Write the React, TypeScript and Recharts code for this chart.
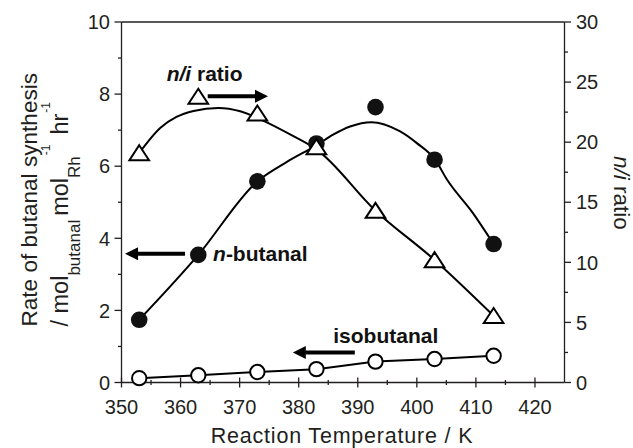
import React from 'react';
import {
  ComposedChart,
  Line,
  Scatter,
  XAxis,
  YAxis,
  ReferenceLine,
  ReferenceDot,
  Label,
} from 'recharts';

// ---------- data ----------
const temps = [353, 363, 373, 383, 393, 403, 413];
const nButanal = [1.74, 3.54, 5.58, 6.63, 7.64, 6.18, 3.84];
const isoButanal = [0.12, 0.2, 0.29, 0.37, 0.58, 0.65, 0.74];
const niRatio = [19.1, 23.8, 22.4, 19.6, 14.3, 10.2, 5.55];

// fitted guide curves
const nButanalCurveX = [353, 363, 373, 378, 383, 385.9, 388.7, 392.3, 397.1, 400, 403.1, 405.1, 409.5, 413];
const nButanalCurveY = [1.74, 3.54, 5.58, 6.12, 6.58, 6.88, 7.1, 7.22, 6.97, 6.64, 6.18, 5.63, 4.7, 3.84];
const niCurveX = [353, 356.6, 359.3, 362.2, 366.4, 370.1, 373.5, 379.1, 383, 393, 403, 413];
const niCurveY = [19.1, 21.2, 22.1, 22.6, 22.85, 22.57, 21.9, 20.5, 19.4, 14.3, 10.2, 5.55];

// ticks
const xMajorTicks = [350, 360, 370, 380, 390, 400, 410, 420];
const xMinorTicks = [355, 365, 375, 385, 395, 405, 415];
const leftMajorTicks = [0, 2, 4, 6, 8, 10];
const leftMinorTicks = [1, 3, 5, 7, 9];
const rightMajorTicks = [0, 5, 10, 15, 20, 25, 30];
const rightMinorTicks = [2.5, 7.5, 12.5, 17.5, 22.5, 27.5];

// annotations (data coordinates)
const niLabelPos = { x: 357.65, y: 8.35 };
const niArrow = { x1: 364.6, x2: 374.8, y: 7.94 };
const nbLabelPos = { x: 365.5, y: 3.375 };
const nbArrow = { x1: 360.75, x2: 350.6, y: 3.57 };
const isoLabelPos = { x: 385.85, y: 1.09 };
const isoArrow = { x1: 389.5, x2: 379.0, y: 0.83 };

// ---------- build ----------
const nButanalPts = temps.map((t, i) => ({ x: t, y: nButanal[i] }));
const isoPts = temps.map((t, i) => ({ x: t, y: isoButanal[i] }));
const niPts = temps.map((t, i) => ({ x: t, y: niRatio[i] }));
const nButanalCurve = nButanalCurveX.map((t, i) => ({ x: t, y: nButanalCurveY[i] }));
const niCurve = niCurveX.map((t, i) => ({ x: t, y: niCurveY[i] }));

const xTicks = [...xMajorTicks, ...xMinorTicks].sort((a, b) => a - b);
const leftTicks = [...leftMajorTicks, ...leftMinorTicks].sort((a, b) => a - b);
const rightTicks = [...rightMajorTicks, ...rightMinorTicks].sort((a, b) => a - b);

const FONT = '"Liberation Sans", Arial, Helvetica, sans-serif';
const INK = '#231f20';
const AX_W = 1.3;

function BottomTick(props: any) {
  const { x, y, payload } = props;
  const v = payload.value;
  const major = xMajorTicks.includes(v);
  return (
    <g>
      <line x1={x} x2={x} y1={major ? y - 5 : y - 2.5} y2={major ? y + 5 : y + 2.5} stroke={INK} strokeWidth={AX_W} />
      {major && (
        <text x={x} y={y + 31} textAnchor="middle" fontSize={20} fill={INK} fontFamily={FONT}>
          {v}
        </text>
      )}
    </g>
  );
}

function TopTick(props: any) {
  const { x, y } = props;
  return <line x1={x} x2={x} y1={y} y2={y + 3.5} stroke={INK} strokeWidth={AX_W} />;
}

function LeftTick(props: any) {
  const { x, y, payload } = props;
  const v = payload.value;
  const major = leftMajorTicks.includes(v);
  return (
    <g>
      <line x1={major ? x - 7 : x - 3.5} x2={x} y1={y} y2={y} stroke={INK} strokeWidth={AX_W} />
      {major && (
        <text x={x - 11.5} y={y + 7.2} textAnchor="end" fontSize={20} fill={INK} fontFamily={FONT}>
          {v}
        </text>
      )}
    </g>
  );
}

function RightTick(props: any) {
  const { x, y, payload } = props;
  const v = payload.value;
  const major = rightMajorTicks.includes(v);
  return (
    <g>
      <line x1={x} x2={major ? x + 6.5 : x + 3.5} y1={y} y2={y} stroke={INK} strokeWidth={AX_W} />
      {major && (
        <text x={x + 11.5} y={y + 7.2} textAnchor="start" fontSize={20} fill={INK} fontFamily={FONT}>
          {v}
        </text>
      )}
    </g>
  );
}

function Arrow(props: any) {
  const { x1, y1, x2 } = props;
  const dir = x2 > x1 ? 1 : -1;
  const headLen = 13;
  const headHalf = 6.5;
  const baseX = x2 - dir * headLen;
  return (
    <g>
      <line x1={x1} y1={y1} x2={baseX + dir * 1} y2={y1} stroke="#000" strokeWidth={4} />
      <polygon points={`${x2},${y1} ${baseX},${y1 - headHalf} ${baseX},${y1 + headHalf}`} fill="#000" />
    </g>
  );
}

const FilledCircle = (p: any) => <circle cx={p.cx} cy={p.cy} r={8.3} fill="#111" />;
const OpenCircle = (p: any) => (
  <circle key={`oc-${p.index}`} cx={p.cx} cy={p.cy} r={7.2} fill="#fff" stroke="#000" strokeWidth={2} />
);
const Triangle = (p: any) => {
  const { cx, cy } = p;
  return (
    <polygon
      points={`${cx},${cy - 7.8} ${cx + 9.8},${cy + 7.2} ${cx - 9.8},${cy + 7.2}`}
      fill="#fff"
      stroke="#000"
      strokeWidth={2}
      strokeLinejoin="miter"
    />
  );
};

const LeftTitle = (props: any) => {
  const vb = props.viewBox || { x: 0, y: 22, width: 121.5, height: 360 };
  const cy = vb.y + vb.height / 2;
  const x1 = vb.x + 37;
  const y1 = cy - 2.5;
  const x2 = vb.x + 68;
  const y2 = cy + 12;
  return (
    <g fill={INK} fontFamily={FONT}>
      <text x={x1} y={y1} transform={`rotate(-90 ${x1} ${y1})`} textAnchor="middle" fontSize={22.6}>
        Rate of butanal synthesis
      </text>
      <text x={x2} y={y2} transform={`rotate(-90 ${x2} ${y2})`} textAnchor="middle" fontSize={23.5}>
        <tspan>/ mol</tspan>
        <tspan fontSize={17} dy={11.5}>butanal</tspan>
        <tspan dx={4} dy={-11.5}>mol</tspan>
        <tspan fontSize={17} dy={11.5}>Rh</tspan>
        <tspan fontSize={12} dx={1} dy={-30}>-1</tspan>
        <tspan dx={10} dy={18.5}>hr</tspan>
        <tspan fontSize={12} dx={1} dy={-18.5}>-1</tspan>
      </text>
    </g>
  );
};

const RightTitle = (props: any) => {
  const vb = props.viewBox || { x: 564.5, y: 22, width: 68.5, height: 360 };
  const x = vb.x + 49.5;
  const y = 193;
  return (
    <text x={x} y={y} transform={`rotate(90 ${x} ${y})`} textAnchor="middle" fontSize={22.5} fill={INK} fontFamily={FONT}>
      <tspan fontStyle="italic">n/i</tspan> ratio
    </text>
  );
};

const BottomTitle = (props: any) => {
  const vb = props.viewBox || { x: 121.5, y: 382.5, width: 443, height: 65.5 };
  const x = vb.x + vb.width / 2 - 1;
  return (
    <text x={x} y={vb.y + 60} textAnchor="middle" fontSize={21.5} letterSpacing={0.8} fill={INK} fontFamily={FONT}>
      Reaction Temperature / K
    </text>
  );
};

const textAt = (content: React.ReactNode) => (p: any) => (
  <text x={p.cx} y={p.cy} fontSize={21} fontWeight="bold" fill="#111" fontFamily={FONT}>
    {content}
  </text>
);

export default function App() {
  return (
    <div style={{ position: 'absolute', left: 0, top: 0, width: 633, height: 448, background: '#fff' }}>
      <ComposedChart width={633} height={448} margin={{ top: 0, right: 0, bottom: 0, left: 0 }}>
        <XAxis
          xAxisId="top"
          orientation="top"
          type="number"
          dataKey="x"
          domain={[350, 425]}
          ticks={xTicks}
          interval={0}
          height={22}
          tickSize={0}
          tickMargin={0}
          tick={<TopTick />}
          tickLine={false}
          axisLine={{ stroke: INK, strokeWidth: AX_W }}
        />
        <XAxis
          type="number"
          dataKey="x"
          domain={[350, 425]}
          ticks={xTicks}
          interval={0}
          height={65.5}
          tickSize={0}
          tickMargin={0}
          tick={<BottomTick />}
          tickLine={false}
          axisLine={{ stroke: INK, strokeWidth: AX_W }}
        >
          <Label content={<BottomTitle />} />
        </XAxis>
        <YAxis
          yAxisId="left"
          type="number"
          domain={[0, 10]}
          ticks={leftTicks}
          interval={0}
          width={121.5}
          tickSize={0}
          tickMargin={0}
          tick={<LeftTick />}
          tickLine={false}
          axisLine={{ stroke: INK, strokeWidth: AX_W }}
        >
          <Label content={<LeftTitle />} />
        </YAxis>
        <YAxis
          yAxisId="right"
          orientation="right"
          type="number"
          domain={[0, 30]}
          ticks={rightTicks}
          interval={0}
          width={68.5}
          tickSize={0}
          tickMargin={0}
          tick={<RightTick />}
          tickLine={false}
          axisLine={{ stroke: INK, strokeWidth: AX_W }}
        >
          <Label content={<RightTitle />} />
        </YAxis>

        <Line
          yAxisId="left"
          data={nButanalCurve}
          dataKey="y"
          type="monotone"
          stroke="#000"
          strokeWidth={2}
          dot={false}
          activeDot={false}
          isAnimationActive={false}
        />
        <Line
          yAxisId="right"
          data={niCurve}
          dataKey="y"
          type="monotone"
          stroke="#000"
          strokeWidth={2}
          dot={false}
          activeDot={false}
          isAnimationActive={false}
        />
        <Scatter yAxisId="left" data={nButanalPts} dataKey="y" shape={FilledCircle} isAnimationActive={false} />
        <Line
          yAxisId="left"
          data={isoPts}
          dataKey="y"
          type="linear"
          stroke="#000"
          strokeWidth={2}
          dot={OpenCircle}
          activeDot={false}
          isAnimationActive={false}
        />
        <Scatter yAxisId="right" data={niPts} dataKey="y" shape={Triangle} isAnimationActive={false} />

        <ReferenceLine
          yAxisId="left"
          segment={[{ x: niArrow.x1, y: niArrow.y }, { x: niArrow.x2, y: niArrow.y }]}
          shape={Arrow}
          ifOverflow="visible"
        />
        <ReferenceLine
          yAxisId="left"
          segment={[{ x: nbArrow.x1, y: nbArrow.y }, { x: nbArrow.x2, y: nbArrow.y }]}
          shape={Arrow}
          ifOverflow="visible"
        />
        <ReferenceLine
          yAxisId="left"
          segment={[{ x: isoArrow.x1, y: isoArrow.y }, { x: isoArrow.x2, y: isoArrow.y }]}
          shape={Arrow}
          ifOverflow="visible"
        />
        <ReferenceDot
          yAxisId="left"
          x={niLabelPos.x}
          y={niLabelPos.y}
          r={0}
          ifOverflow="visible"
          shape={textAt(
            <>
              <tspan fontStyle="italic">n/i</tspan> ratio
            </>
          )}
        />
        <ReferenceDot
          yAxisId="left"
          x={nbLabelPos.x}
          y={nbLabelPos.y}
          r={0}
          ifOverflow="visible"
          shape={textAt(
            <>
              <tspan fontStyle="italic">n</tspan>-butanal
            </>
          )}
        />
        <ReferenceDot
          yAxisId="left"
          x={isoLabelPos.x}
          y={isoLabelPos.y}
          r={0}
          ifOverflow="visible"
          shape={textAt(<>isobutanal</>)}
        />
      </ComposedChart>
    </div>
  );
}
